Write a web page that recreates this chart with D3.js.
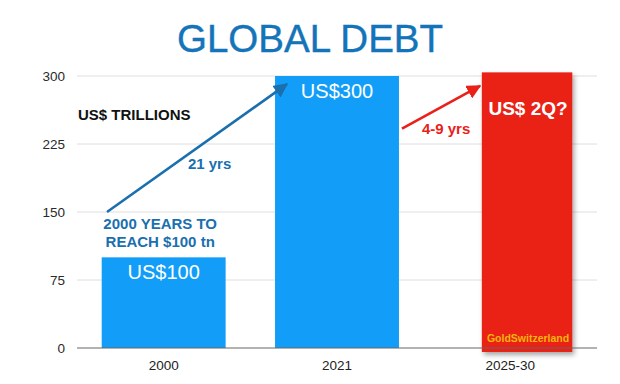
<!DOCTYPE html>
<html>
<head>
<meta charset="utf-8">
<script src="https://cdn.jsdelivr.net/npm/d3@7"></script>
<style>
  html, body { margin: 0; padding: 0; background: #fff; }
  svg { display: block; font-family: "Liberation Sans", Arial, Helvetica, sans-serif; }
</style>
</head>
<body>
<svg id="chart" width="620" height="384"></svg>
<script>
// ---- data ----
const categories = ["2000", "2021", "2025-30"];
const debtValues = [100, 300, 304];            // US$ trillions (last bar drawn clipped to the chart top)
const barLabels = ["US$100", "US$300", "US$ 2Q?"];
const tickValues = [0, 75, 150, 225, 300];
const titleText = "GLOBAL DEBT";
const unitText = "US$ TRILLIONS";
const noteLines = ["2000 YEARS TO", "REACH $100 tn"];
const arrowLabels = ["21 yrs", "4-9 yrs"];
const sourceText = "GoldSwitzerland";

// ---- layout ----
const svg = d3.select("#chart");
const W = 620, H = 384;
const x = d3.scaleBand().domain(categories).range([77, 597]).paddingInner(0.285).paddingOuter(0.1425);
const y = d3.scaleLinear().domain([0, 300]).range([348, 76]);
const step = x.step();
// fractional category position -> pixel
const xf = f => x(categories[0]) + x.bandwidth() / 2 + f * step;

const BLUE = "#129ef8", RED = "#ea2119", DARKBLUE = "#1a6fae";

const defs = svg.append("defs");
const sh = defs.append("filter").attr("id", "shadow").attr("x", "-10%").attr("y", "-10%").attr("width", "130%").attr("height", "130%");
sh.append("feDropShadow").attr("dx", 2).attr("dy", 3).attr("stdDeviation", 2.5).attr("flood-color", "#000").attr("flood-opacity", 0.35);
[["blueHead", DARKBLUE], ["redHead", RED]].forEach(([id, c]) => {
  defs.append("marker").attr("id", id).attr("viewBox", "0 0 10 10").attr("refX", 9).attr("refY", 5)
    .attr("markerWidth", 5.5).attr("markerHeight", 5.5).attr("orient", "auto").attr("markerUnits", "strokeWidth")
    .append("path").attr("d", "M0,0 L10,5 L0,10 Z").attr("fill", c);
});

// title
svg.append("text").attr("x", W / 2).attr("y", 52).attr("text-anchor", "middle")
  .attr("font-size", 38.5).attr("fill", "#1474b9").attr("stroke", "#1474b9").attr("stroke-width", 0.4).text(titleText);

// gridlines
svg.append("g").selectAll("line").data(tickValues.filter(d => d > 0)).join("line")
  .attr("x1", 77).attr("x2", 597).attr("y1", d => y(d)).attr("y2", d => y(d))
  .attr("stroke", "#dedede").attr("stroke-width", 1);

// y axis labels
const yAxis = d3.axisLeft(y).tickValues(tickValues).tickSize(0).tickPadding(12);
const gy = svg.append("g").attr("transform", "translate(77,0)").call(yAxis);
gy.select(".domain").remove();
gy.selectAll("text").attr("font-size", 13.5).attr("fill", "#2a2a2a").attr("font-family", "Liberation Sans, Arial, sans-serif");

// bars (blue)
svg.append("g").selectAll("rect").data(categories.slice(0, 2)).join("rect")
  .attr("x", d => x(d)).attr("width", x.bandwidth())
  .attr("y", (d, i) => y(debtValues[i])).attr("height", (d, i) => y(0) - y(debtValues[i]))
  .attr("fill", BLUE);

// red projection bar (narrower, right-aligned in its band, with drop shadow)
const rc = categories[2];
const rx = x(rc) + x.bandwidth() * 0.27, rw = x.bandwidth() * 0.73;
svg.append("rect").attr("x", rx).attr("width", rw)
  .attr("y", y(debtValues[2])).attr("height", y(0) - y(debtValues[2]) + 4)
  .attr("fill", RED).attr("filter", "url(#shadow)");

// x axis line
svg.append("line").attr("x1", 77).attr("x2", 597).attr("y1", y(0)).attr("y2", y(0))
  .attr("stroke", "#666").attr("stroke-width", 1);

// category labels
const xAxis = d3.axisBottom(x).tickSize(0).tickPadding(12);
const gx = svg.append("g").attr("transform", `translate(0,${y(0)})`).call(xAxis);
gx.select(".domain").remove();
gx.selectAll("text").attr("font-size", 13.5).attr("fill", "#222").attr("font-family", "Liberation Sans, Arial, sans-serif");

// bar labels
svg.append("text").attr("x", x(categories[0]) + x.bandwidth() / 2).attr("y", y(debtValues[0]) + 22)
  .attr("text-anchor", "middle").attr("font-size", 20).attr("fill", "#fff").text(barLabels[0]);
svg.append("text").attr("x", x(categories[1]) + x.bandwidth() / 2).attr("y", y(debtValues[1]) + 22)
  .attr("text-anchor", "middle").attr("font-size", 20).attr("fill", "#fff").text(barLabels[1]);
svg.append("text").attr("x", rx + rw / 2 + 1).attr("y", y(debtValues[2]) + 43)
  .attr("text-anchor", "middle").attr("font-size", 19).attr("font-weight", "bold").attr("fill", "#fff").text(barLabels[2]);
svg.append("text").attr("x", rx + rw / 2 + 1).attr("y", y(0) - 6.5)
  .attr("text-anchor", "middle").attr("font-size", 10.5).attr("font-weight", "bold").attr("fill", "#f5b50a").text(sourceText);

// annotations
svg.append("text").attr("x", 78).attr("y", y(251.5)).attr("font-size", 15).attr("font-weight", "bold")
  .attr("fill", "#111").text(unitText);

svg.append("line").attr("x1", xf(-0.327)).attr("y1", y(150)).attr("x2", xf(0.711)).attr("y2", y(291))
  .attr("stroke", DARKBLUE).attr("stroke-width", 2.6).attr("marker-end", "url(#blueHead)");
svg.append("text").attr("x", xf(0.14)).attr("y", y(197.4)).attr("font-size", 15).attr("font-weight", "bold")
  .attr("fill", DARKBLUE).text(arrowLabels[0]);

svg.append("g").selectAll("text").data(noteLines).join("text")
  .attr("x", xf(-0.02)).attr("y", (d, i) => y(131.5) + i * 18.5)
  .attr("text-anchor", "middle").attr("font-size", 15).attr("font-weight", "bold")
  .attr("fill", DARKBLUE).text(d => d);

svg.append("line").attr("x1", xf(1.375)).attr("y1", y(242)).attr("x2", xf(1.825)).attr("y2", y(289))
  .attr("stroke", RED).attr("stroke-width", 2.6).attr("marker-end", "url(#redHead)");
svg.append("text").attr("x", xf(1.49)).attr("y", y(236)).attr("font-size", 15).attr("font-weight", "bold")
  .attr("fill", RED).text(arrowLabels[1]);
</script>
</body>
</html>
